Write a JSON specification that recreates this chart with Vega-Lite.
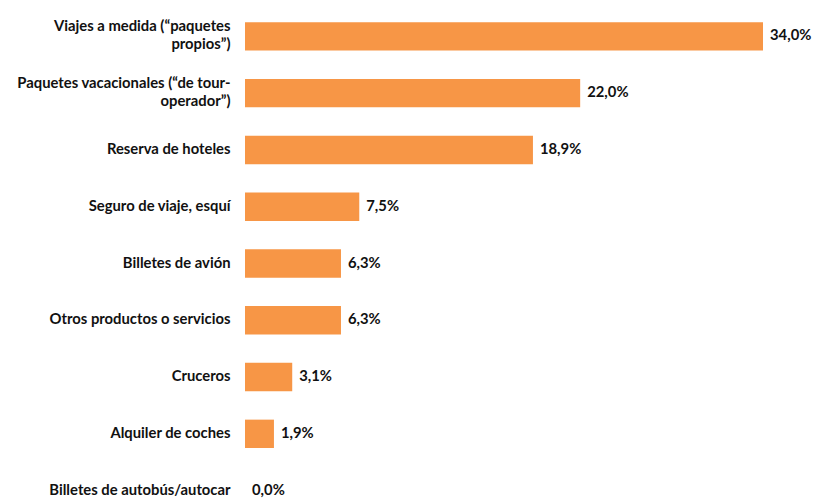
{
  "$schema": "https://vega.github.io/schema/vega-lite/v6.json",
  "width": 518,
  "height": 490,
  "autosize": {"type": "none"},
  "padding": {"left": 245, "top": 8, "right": 52, "bottom": 0},
  "background": "white",
  "config": {
    "view": {"stroke": null},
    "locale": {"number": {"decimal": ",", "thousands": ".", "grouping": [3], "currency": ["", " €"]}}
  },
  "data": {
    "values": [
      {"categoria": "Viajes a medida (“paquetes|propios”)", "orden": 1, "valor": 0.340},
      {"categoria": "Paquetes vacacionales (“de tour-|operador”)", "orden": 2, "valor": 0.220},
      {"categoria": "Reserva de hoteles", "orden": 3, "valor": 0.189},
      {"categoria": "Seguro de viaje, esquí", "orden": 4, "valor": 0.075},
      {"categoria": "Billetes de avión", "orden": 5, "valor": 0.063},
      {"categoria": "Otros productos o servicios", "orden": 6, "valor": 0.063},
      {"categoria": "Cruceros", "orden": 7, "valor": 0.031},
      {"categoria": "Alquiler de coches", "orden": 8, "valor": 0.019},
      {"categoria": "Billetes de autobús/autocar", "orden": 9, "valor": 0.0}
    ]
  },
  "encoding": {
    "y": {
      "field": "categoria",
      "type": "nominal",
      "sort": {"field": "orden", "order": "ascending"},
      "scale": {"range": [0, 511], "paddingInner": 0.5, "paddingOuter": 0.25},
      "axis": {
        "title": null,
        "domain": false,
        "ticks": false,
        "labelPadding": 15,
        "labelFont": "Lato",
        "labelFontWeight": "bold",
        "labelFontSize": 14.8,
        "labelColor": "#111111",
        "labelLineHeight": 18,
        "labelLimit": 300,
        "labelOffset": {"condition": {"test": "indexof(datum.value, '|') >= 0", "value": -9}, "value": 0},
        "labelExpr": "split(datum.value, '|')"
      }
    },
    "x": {
      "field": "valor",
      "type": "quantitative",
      "scale": {"domain": [0, 0.34], "nice": false},
      "axis": null
    }
  },
  "layer": [
    {"mark": {"type": "bar", "color": "#F79646"}},
    {
      "mark": {"type": "text", "align": "left", "baseline": "middle", "dx": 7, "font": "Lato", "fontWeight": "bold", "fontSize": 14.8, "color": "#111111"},
      "encoding": {"text": {"field": "valor", "type": "quantitative", "format": ".1%"}}
    }
  ]
}
